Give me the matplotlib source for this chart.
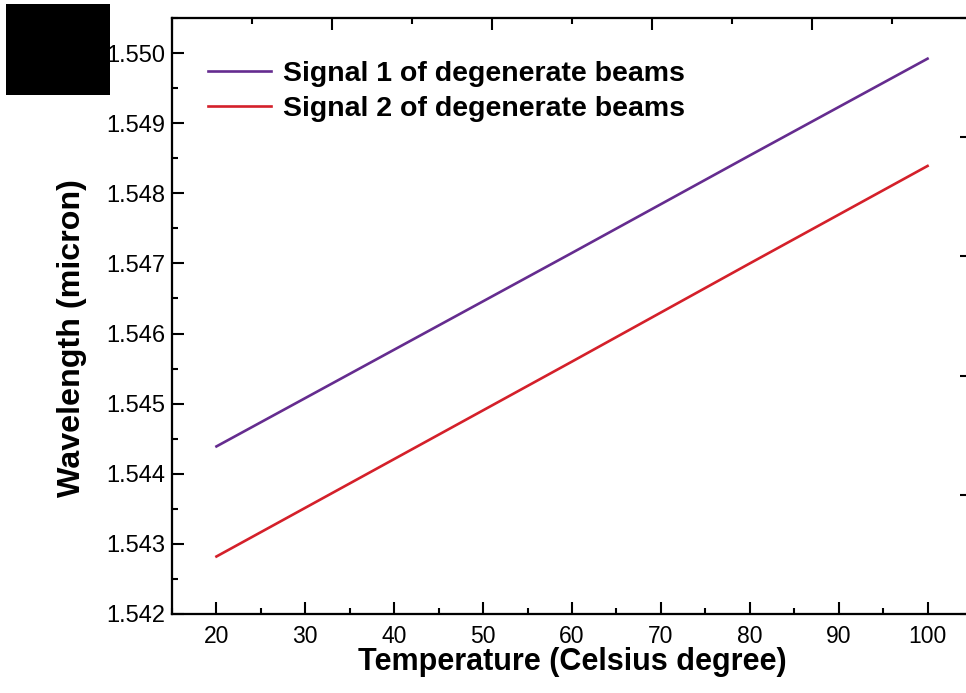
import matplotlib
matplotlib.use("Agg")
import matplotlib.pyplot as plt
from matplotlib.ticker import MultipleLocator, FormatStrFormatter
from matplotlib.patches import Rectangle

# Temperature sweep and wavelengths of the two degenerate signal beams
temperature = [20, 40, 60, 80, 100]
signal_1 = [1.54439, 1.54577, 1.54715, 1.54854, 1.54992]
signal_2 = [1.54282, 1.54421, 1.54560, 1.54700, 1.54839]
series_labels = ["Signal 1 of degenerate beams", "Signal 2 of degenerate beams"]
x_ticks = [20, 30, 40, 50, 60, 70, 80, 90, 100]
y_ticks = [1.542, 1.543, 1.544, 1.545, 1.546, 1.547, 1.548, 1.549, 1.550]

plt.rcParams["font.family"] = ["Liberation Sans", "DejaVu Sans"]

W, H = 966, 693
fig = plt.figure(figsize=(W / 100, H / 100), dpi=100)
left, right, bottom, top = 172, 972, 614, 18
ax = fig.add_axes([left / W, 1 - bottom / H, (right - left) / W, (bottom - top) / H])

ax.plot(temperature, signal_1, color="#652c8f", lw=1.9, label=series_labels[0])
ax.plot(temperature, signal_2, color="#d4202a", lw=1.9, label=series_labels[1])

ax.set_xlim(15, 105)
ax.set_ylim(1.542, 1.5505)
ax.set_xticks(x_ticks)
ax.set_yticks(y_ticks)
ax.xaxis.set_minor_locator(MultipleLocator(5))
ax.yaxis.set_minor_locator(MultipleLocator(0.0005))
ax.yaxis.set_major_formatter(FormatStrFormatter("%.3f"))

for s in ax.spines.values():
    s.set_linewidth(1.5)

ax.tick_params(which="both", direction="in", width=1.5, top=False, right=False)
ax.tick_params(which="major", length=8.5)
ax.tick_params(which="minor", length=4.5)
ax.tick_params(axis="x", which="major", labelsize=16.5, pad=8)
ax.tick_params(axis="y", which="major", labelsize=17, pad=5)

ax.set_xlabel("Temperature (Celsius degree)", fontsize=22, fontweight="bold")
ax.xaxis.set_label_coords(0.5, -0.055)
ax.set_ylabel("Wavelength (micron)", fontsize=23.2, fontweight="bold")
ax.yaxis.set_label_coords(-0.106, 0.463)

# Opposite axes with their own default tick spacing, no labels
ax_top = ax.twiny()
ax_top.set_xlim(0, 5)
ax_top.xaxis.set_major_locator(MultipleLocator(1))
ax_top.xaxis.set_minor_locator(MultipleLocator(0.5))
ax_top.tick_params(axis="x", which="both", direction="in", width=1.5, labeltop=False)
ax_top.tick_params(axis="x", which="major", length=8.5)
ax_top.tick_params(axis="x", which="minor", length=4.5)

ax_right = ax.twinx()
ax_right.set_ylim(0, 5)
ax_right.yaxis.set_major_locator(MultipleLocator(1))
ax_right.yaxis.set_minor_locator(MultipleLocator(0.5))
ax_right.tick_params(axis="y", which="both", direction="in", width=1.5, labelright=False)
ax_right.tick_params(axis="y", which="major", length=8.5)
ax_right.tick_params(axis="y", which="minor", length=4.5)
for a in (ax_top, ax_right):
    for s in a.spines.values():
        s.set_linewidth(1.5)

leg = ax.legend(loc="upper left", bbox_to_anchor=(0.045, 0.928), frameon=False,
                borderpad=0, borderaxespad=0, handlelength=2.2, handletextpad=0.45,
                labelspacing=0.32, prop={"size": 20.5, "weight": "bold"})

# Black block in the upper-left corner
fig.patches.append(Rectangle((6 / W, 1 - 95 / H), 104 / W, 91 / H,
                             transform=fig.transFigure, facecolor="black",
                             edgecolor="none", zorder=10))

fig.savefig("out.png", dpi=100)
